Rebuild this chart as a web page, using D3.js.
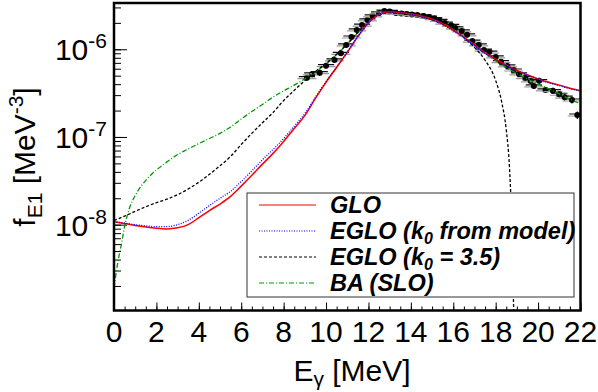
<!DOCTYPE html>
<html><head><meta charset="utf-8">
<script src="https://cdn.jsdelivr.net/npm/d3@7"></script>
<style>body{margin:0;background:#fff}svg{display:block}text{font-family:"Liberation Sans",Arial,Helvetica,sans-serif}</style>
</head><body>
<svg id="c" width="598" height="392"></svg>
<script>
// ---- data ----
const xTicks = [0,2,4,6,8,10,12,14,16,18,20,22];
const yTickExps = [-8,-7,-6];

const glo_E = [0,0.5,1,1.5,2,2.5,3,3.5,4,4.5,5,5.5,6,6.5,7,7.5,8,8.5,9,9.5,10,10.5,11,11.5,12,12.5,13,13.5,14,14.5,15,15.5,16,16.5,17,17.5,18,18.5,19,19.5,20,20.5,21,21.5,22];
const glo_f = [1.08e-8,1.03e-8,9.8e-9,9.4e-9,9.1e-9,8.95e-9,9.2e-9,1.0e-8,1.2e-8,1.45e-8,1.72e-8,2.1e-8,2.75e-8,3.65e-8,4.9e-8,6.5e-8,8.9e-8,1.25e-7,1.75e-7,2.75e-7,4.2e-7,6.2e-7,9.2e-7,1.4e-6,2.0e-6,2.5e-6,2.68e-6,2.62e-6,2.52e-6,2.38e-6,2.2e-6,1.95e-6,1.65e-6,1.38e-6,1.12e-6,9.1e-7,7.7e-7,6.6e-7,5.75e-7,5.1e-7,4.6e-7,4.2e-7,3.9e-7,3.6e-7,3.38e-7];

const eglo_E = glo_E;
const eglo_f = [1.08e-8,1.04e-8,1.0e-8,9.7e-9,9.5e-9,9.5e-9,1.0e-8,1.12e-8,1.35e-8,1.65e-8,2.0e-8,2.4e-8,3.1e-8,4.1e-8,5.5e-8,7.2e-8,9.6e-8,1.33e-7,1.85e-7,2.85e-7,4.3e-7,6.3e-7,9.3e-7,1.4e-6,2.0e-6,2.5e-6,2.66e-6,2.6e-6,2.5e-6,2.35e-6,2.17e-6,1.92e-6,1.62e-6,1.35e-6,1.1e-6,9.0e-7,7.6e-7,6.5e-7,5.7e-7,5.05e-7,4.55e-7,4.15e-7,3.85e-7,3.55e-7,3.33e-7];

const eglo35_E = [0,0.5,1,1.5,2,2.5,3,3.5,4,4.5,5,5.5,6,6.5,7,7.5,8,8.5,9,9.5,10,10.5,11,11.5,12,12.5,13,13.5,14,14.5,15,15.5,16,16.5,17,17.5,18,18.3,18.5,18.65,18.75,18.85];
const eglo35_f = [1.12e-8,1.25e-8,1.42e-8,1.6e-8,1.78e-8,1.95e-8,2.2e-8,2.55e-8,3.05e-8,3.75e-8,4.7e-8,6.0e-8,8.2e-8,1.1e-7,1.45e-7,1.9e-7,2.6e-7,3.4e-7,4.4e-7,5.6e-7,6.9e-7,8.8e-7,1.15e-6,1.55e-6,2.05e-6,2.5e-6,2.65e-6,2.6e-6,2.5e-6,2.36e-6,2.18e-6,1.95e-6,1.65e-6,1.35e-6,1.05e-6,7.5e-7,4.4e-7,2.4e-7,1.2e-7,4.5e-8,1.2e-8,1.0e-9];

const ba_E = [0,0.1,0.2,0.35,0.5,0.75,1,1.5,2,2.5,3,3.5,4,4.5,5,5.5,6,6.5,7,7.5,8,8.5,9,9.5,10,10.5,11,11.5,12,12.5,13,13.5,14,14.5,15,15.5,16,16.5,17,17.5,18,18.5,19,19.5,20,20.5,21,21.5,22];
const ba_f = [1.9e-9,2.8e-9,3.95e-9,6.0e-9,9.5e-9,1.6e-8,2.15e-8,3.2e-8,4.2e-8,5.2e-8,6.3e-8,7.3e-8,8.4e-8,9.6e-8,1.1e-7,1.3e-7,1.6e-7,1.95e-7,2.35e-7,2.85e-7,3.35e-7,3.9e-7,4.6e-7,5.5e-7,6.8e-7,8.7e-7,1.15e-6,1.55e-6,2.05e-6,2.5e-6,2.65e-6,2.6e-6,2.5e-6,2.37e-6,2.2e-6,1.97e-6,1.68e-6,1.38e-6,1.1e-6,9.0e-7,7.4e-7,6.2e-7,5.3e-7,4.6e-7,4.0e-7,3.55e-7,3.1e-7,2.7e-7,2.4e-7];

const exp_E = [9.1,9.35,9.7,10.0,10.4,10.7,10.95,11.2,11.45,11.7,11.95,12.2,12.5,12.75,13.0,13.3,13.55,13.8,14.05,14.3,14.6,14.85,15.1,15.35,15.6,15.9,16.1,16.4,16.65,16.9,17.2,17.45,17.7,18.0,18.25,18.55,18.85,19.1,19.4,19.65,19.8,20.05,20.35,20.7,21.0,21.25,21.6,21.85];
const exp_f = [4.74e-7,5.23e-7,5.41e-7,6.5e-7,7.55e-7,9.0e-7,1.12e-6,1.38e-6,1.66e-6,1.89e-6,2.16e-6,2.4e-6,2.6e-6,2.73e-6,2.7e-6,2.6e-6,2.56e-6,2.53e-6,2.49e-6,2.46e-6,2.4e-6,2.33e-6,2.24e-6,2.13e-6,1.99e-6,1.87e-6,1.75e-6,1.62e-6,1.46e-6,1.24e-6,1.12e-6,9.8e-7,9.3e-7,8.17e-7,7.22e-7,6.45e-7,5.8e-7,5.23e-7,4.74e-7,4.35e-7,3.82e-7,4.38e-7,3.44e-7,3.37e-7,3.07e-7,2.84e-7,2.64e-7,1.78e-7];
const exp_relErr = [0.08,0.08,0.08,0.07,0.07,0.07,0.06,0.06,0.06,0.06,0.05,0.05,0.05,0.05,0.05,0.05,0.05,0.05,0.05,0.05,0.05,0.05,0.05,0.05,0.05,0.05,0.05,0.05,0.06,0.06,0.06,0.06,0.06,0.06,0.07,0.07,0.07,0.07,0.07,0.08,0.08,0.08,0.08,0.08,0.08,0.09,0.09,0.1];
const exp_dE = 0.45;

const legendLabels = ["GLO","EGLO (k","EGLO (k","BA (SLO)"];

// ---- chart ----
const svg = d3.select("#c");
const L = 114, R = 580.5, T = 3, B = 310.5;
const x = d3.scaleLinear().domain([0,22]).range([L,R]);
const y = d3.scaleLog().domain([1.05e-9,3.37e-6]).range([B,T]);

svg.append("defs").append("clipPath").attr("id","clip")
  .append("rect").attr("x",L).attr("y",T).attr("width",R-L).attr("height",B-T);

// x ticks
const gx = svg.append("g").attr("transform",`translate(0,${B})`);
gx.call(d3.axisBottom(x).tickValues(d3.range(0,22.01,0.5)).tickSize(-4).tickFormat(""));
gx.append("g").call(d3.axisBottom(x).tickValues(xTicks).tickSize(-8).tickFormat(""));
gx.selectAll(".domain").remove();
gx.selectAll("line").attr("stroke","#000").attr("stroke-width",1);
xTicks.forEach(v=>{
  svg.append("text").attr("x",x(v)).attr("y",342).attr("text-anchor","middle")
    .attr("font-size",30).text(v);
});

// y ticks
const minor = [];
for (let e=-9;e<=-6;e++) for (let m=1;m<=9;m++){ const v=m*Math.pow(10,e); if(v>=1.05e-9 && v<=3.37e-6) minor.push(v); }
const gy = svg.append("g").attr("transform",`translate(${L},0)`);
gy.call(d3.axisLeft(y).tickValues(minor).tickSize(-7).tickFormat(""));
gy.append("g").call(d3.axisLeft(y).tickValues(yTickExps.map(e=>Math.pow(10,e))).tickSize(-13).tickFormat(""));
gy.selectAll(".domain").remove();
gy.selectAll("line").attr("stroke","#000").attr("stroke-width",1);
yTickExps.forEach(e=>{
  const t = svg.append("text").attr("x",107).attr("y",y(Math.pow(10,e))+11).attr("font-size",30)
    .attr("text-anchor","end");
  t.append("tspan").text("10");
  t.append("tspan").attr("font-size",21).attr("dy",-12).text(String(e));
});

// axis titles
const xt = svg.append("text").attr("x",352).attr("y",381).attr("text-anchor","middle").attr("font-size",30);
xt.append("tspan").text("E");
xt.append("tspan").attr("font-size",21).attr("dy",5).text("γ");
xt.append("tspan").attr("dy",-5).text(" [MeV]");

const yt = svg.append("text").attr("transform",`translate(35,157) rotate(-90)`).attr("text-anchor","middle").attr("font-size",30);
yt.append("tspan").text("f");
yt.append("tspan").attr("font-size",21).attr("dy",7).text("E1");
yt.append("tspan").attr("dy",-7).text(" [MeV");
yt.append("tspan").attr("font-size",21).attr("dy",-12).text("-3");
yt.append("tspan").attr("dy",12).text("]");

// data points
const pts = svg.append("g").attr("clip-path","url(#clip)");
exp_E.forEach((e,i)=>{
  const f = exp_f[i], er = exp_relErr[i];
  pts.append("line").attr("x1",x(e-exp_dE)).attr("x2",x(e+exp_dE)).attr("y1",y(f)+1).attr("y2",y(f)+1)
    .attr("stroke","#999").attr("stroke-width",1.2);
  pts.append("line").attr("x1",x(e-exp_dE*0.85)).attr("x2",x(e+exp_dE*0.85)).attr("y1",y(f)-1).attr("y2",y(f)-1)
    .attr("stroke","#111").attr("stroke-width",1.2);
  pts.append("line").attr("x1",x(e)).attr("x2",x(e)).attr("y1",y(f*(1-er))).attr("y2",y(f*(1+er)))
    .attr("stroke","#111").attr("stroke-width",1.2);
  pts.append("circle").attr("cx",x(e)).attr("cy",y(f)).attr("r",3).attr("fill","#000");
});

// curves
const line = d3.line().x(d=>x(d[0])).y(d=>y(d[1])).curve(d3.curveMonotoneX);
const curves = svg.append("g").attr("clip-path","url(#clip)");
const series = [
  {E:ba_E, f:ba_f, color:"#009900", dash:"5,2,1,2", w:1.3},
  {E:eglo35_E, f:eglo35_f, color:"#000", dash:"3,2", w:1.3},
  {E:glo_E, f:glo_f, color:"#ff0000", dash:null, w:1.5},
  {E:eglo_E, f:eglo_f, color:"#0000ff", dash:"1,1.5", w:1.3}
];
series.forEach(s=>{
  curves.append("path").datum(s.E.map((e,i)=>[e,s.f[i]])).attr("d",line)
    .attr("fill","none").attr("stroke",s.color).attr("stroke-width",s.w)
    .attr("stroke-dasharray",s.dash);
});

// frame
svg.append("rect").attr("x",L).attr("y",T).attr("width",R-L).attr("height",B-T)
  .attr("fill","none").attr("stroke","#000").attr("stroke-width",2.5);

// legend
const lg = svg.append("g");
lg.append("rect").attr("x",247).attr("y",193).attr("width",327).attr("height",104)
  .attr("fill","#fff").attr("stroke","#333").attr("stroke-width",1);
const lgStyle = [
  {color:"#ff0000", dash:null},
  {color:"#0000ff", dash:"1,1.5"},
  {color:"#000", dash:"3,2"},
  {color:"#009900", dash:"5,2,1,2"}
];
const lgY = [205,231,257,283];
lgStyle.forEach((s,i)=>{
  lg.append("line").attr("x1",259).attr("x2",316).attr("y1",lgY[i]).attr("y2",lgY[i])
    .attr("stroke",s.color).attr("stroke-width",1.2).attr("stroke-dasharray",s.dash);
  const t = lg.append("text").attr("x",330).attr("y",lgY[i]+8).attr("font-size",23.5)
    .attr("font-weight","bold").attr("font-style","italic");
  t.append("tspan").text(legendLabels[i]);
  if (i===1){
    t.append("tspan").attr("font-size",16).attr("dy",5).text("0");
    t.append("tspan").attr("dy",-5).text(" from model)");
  } else if (i===2){
    t.append("tspan").attr("font-size",16).attr("dy",5).text("0");
    t.append("tspan").attr("dy",-5).text(" = 3.5)");
  }
});
</script>
</body></html>
